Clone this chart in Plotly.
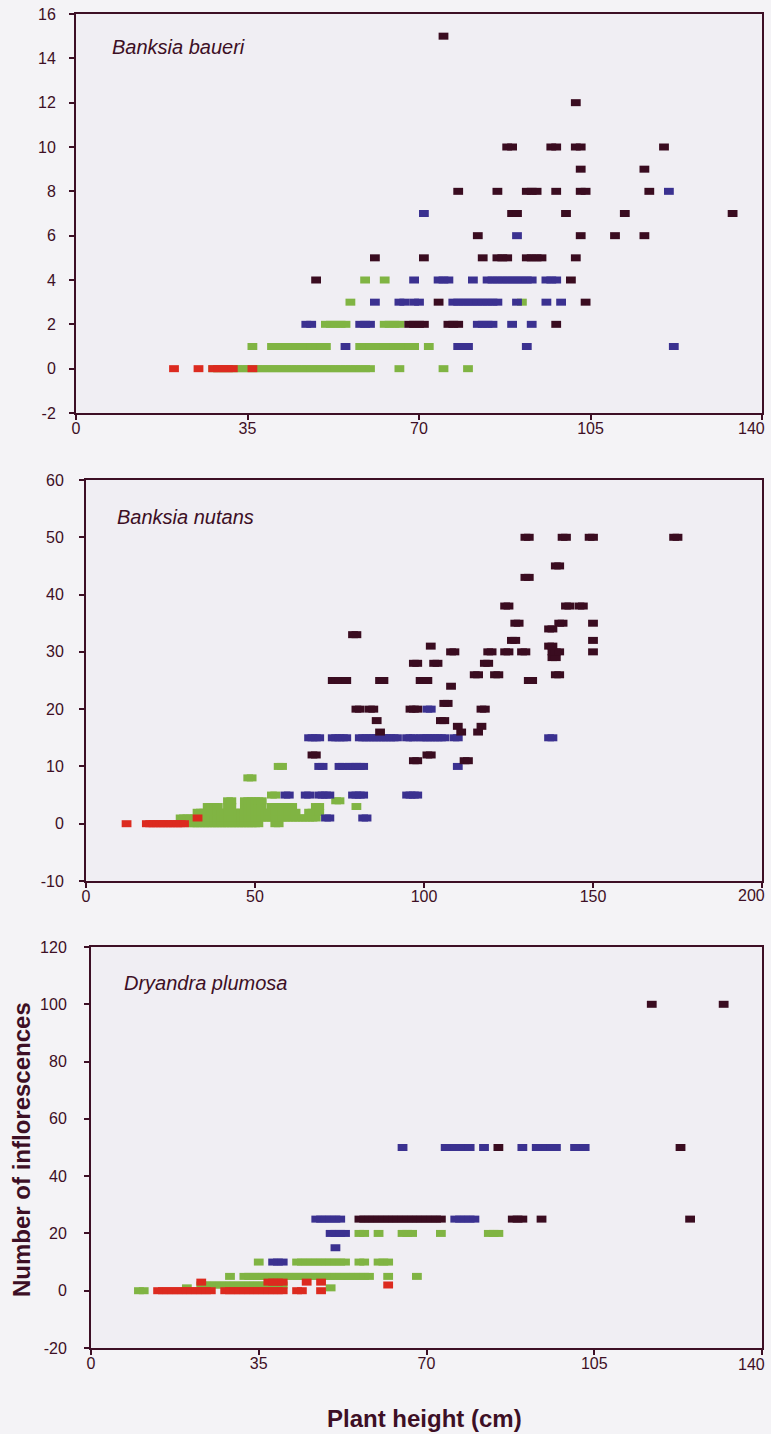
import plotly.graph_objects as go

# ---------------- data ----------------
# Each series: list of (number of inflorescences, [plant heights])
# Panel 1 : Banksia baueri
bb_red = [(0, [20, 25, 28, 29, 30, 31, 32, 36])]
bb_green = [
    (0, [28, 29, 30, 31, 32, 33, 34, 35, 36, 37, 38, 39, 40, 41, 42, 43, 44, 45, 46, 47, 48, 49, 50,
         51, 52, 53, 54, 55, 56, 57, 58, 59, 60, 66, 75, 80]),
    (1, [36, 40, 41, 42, 43, 44, 45, 46, 47, 48, 49, 50, 51, 58, 59, 60, 61, 62, 63, 64, 65, 66, 67,
         68, 69, 72]),
    (2, [51, 52, 53, 54, 55, 63, 64, 65, 66]),
    (3, [56, 91]),
    (4, [59, 63]),
]
bb_blue = [
    (1, [55, 78, 79, 80, 92, 122]),
    (2, [47, 48, 58, 59, 60, 82, 83, 84, 85, 89, 93]),
    (3, [61, 66, 67, 69, 70, 77, 78, 79, 80, 81, 82, 83, 84, 85, 86, 90, 96, 99]),
    (4, [69, 74, 75, 76, 81, 84, 85, 86, 87, 88, 89, 90, 91, 92, 93, 96, 97, 98]),
    (6, [90]),
    (7, [71]),
    (8, [121]),
]
bb_dark = [
    (2, [68, 69, 70, 71, 76, 77, 78, 98]),
    (3, [74, 104]),
    (4, [49, 101]),
    (5, [61, 71, 83, 86, 87, 88, 92, 93, 94, 95, 102]),
    (6, [82, 103, 110, 116]),
    (7, [89, 90, 100, 112, 134]),
    (8, [78, 86, 92, 93, 94, 98, 103, 104, 117]),
    (9, [103, 116]),
    (10, [88, 89, 97, 98, 102, 103, 120]),
    (12, [102]),
    (15, [75]),
]

# Panel 2 : Banksia nutans
bn_red = [(0, [12, 18, 19, 20, 21, 22, 23, 24, 25, 26, 27, 28, 29]), (1, [33])]
bn_green = [
    (0, [31, 32, 33, 34, 35, 36, 37, 38, 39, 40, 41, 42, 43, 44, 45, 46, 47, 48, 49, 50, 51, 56, 57]),
    (1, [28, 29, 30, 31, 32, 34, 35, 36, 37, 38, 39, 40, 41, 42, 43, 44, 45, 46, 47, 48, 49, 50, 51,
         52, 53, 54, 55, 56, 57, 58, 59, 60, 61, 62, 63, 64, 65, 66, 67, 68]),
    (2, [33, 34, 35, 36, 37, 39, 40, 41, 42, 44, 45, 46, 47, 48, 49, 50, 51, 52, 53, 54, 55, 56, 57,
         58, 59, 60, 61, 62, 66, 67, 68, 69]),
    (3, [36, 37, 38, 39, 42, 43, 47, 48, 49, 50, 51, 52, 55, 56, 57, 58, 59, 60, 61, 68, 69, 80]),
    (4, [42, 43, 47, 48, 49, 50, 51, 52, 74, 75]),
    (5, [55, 56]),
    (8, [48, 49]),
    (10, [57, 58]),
]
bn_blue = [
    (1, [71, 72, 82, 83]),
    (5, [59, 60, 65, 66, 69, 70, 71, 72, 79, 80, 81, 82, 95, 96, 97, 98]),
    (10, [69, 70, 75, 76, 78, 79, 80, 81, 82, 110]),
    (15, [66, 67, 68, 69, 73, 74, 75, 76, 77, 81, 82, 83, 84, 85, 86, 87, 88, 89, 90, 91, 92, 95,
          96, 97, 99, 100, 101, 102, 103, 104, 105, 106, 109, 110, 137, 138]),
    (20, [101, 102]),
]
bn_dark = [
    (11, [97, 98, 112, 113]),
    (12, [67, 68, 101, 102]),
    (16, [87, 111, 116]),
    (17, [110, 117]),
    (18, [86, 105, 106]),
    (20, [80, 81, 84, 85, 96, 97, 98, 117, 118]),
    (21, [106, 107]),
    (24, [108]),
    (25, [73, 74, 75, 76, 77, 87, 88, 99, 100, 101, 131, 132]),
    (26, [115, 116, 121, 122, 139, 140]),
    (28, [97, 98, 103, 104, 118, 119]),
    (29, [138, 139]),
    (30, [108, 109, 119, 120, 124, 125, 129, 130, 138, 139, 140, 150]),
    (31, [102, 137, 138]),
    (32, [126, 127, 150]),
    (33, [79, 80]),
    (34, [137, 138]),
    (35, [127, 128, 140, 141, 150]),
    (38, [124, 125, 142, 143, 146, 147]),
    (43, [130, 131]),
    (45, [139, 140]),
    (50, [130, 131, 141, 142, 149, 150, 174, 175]),
]

# Panel 3 : Dryandra plumosa
dp_red = [
    (0, [14, 15, 16, 17, 18, 19, 20, 21, 22, 23, 24, 25, 28, 29, 30, 31, 32, 33, 34, 35, 36, 37, 38,
         39, 40, 43, 44, 48]),
    (2, [62]),
    (3, [23, 37, 38, 39, 40, 45, 48]),
]
dp_green = [
    (0, [10, 11]),
    (1, [20, 50]),
    (2, [23, 24, 25, 26, 27, 28, 29, 30, 31, 32, 33, 34, 35, 36, 37, 38, 39, 40]),
    (5, [29, 32, 33, 34, 35, 36, 37, 38, 39, 40, 41, 42, 43, 44, 45, 46, 47, 48, 49, 50, 51, 52, 53,
         54, 55, 56, 57, 58, 62, 68]),
    (10, [35, 43, 44, 45, 46, 47, 48, 49, 50, 51, 52, 53, 56, 57, 60, 61, 62]),
    (20, [56, 57, 60, 65, 66, 67, 73, 83, 84, 85]),
]
dp_blue = [
    (10, [38, 39, 40]),
    (15, [51]),
    (20, [50, 51, 52, 53]),
    (25, [47, 48, 49, 50, 51, 52, 76, 77, 78, 79, 80]),
    (50, [65, 74, 75, 76, 77, 78, 79, 82, 90, 93, 94, 95, 96, 97, 101, 102, 103]),
]
dp_dark = [
    (25, [56, 57, 58, 59, 60, 61, 62, 63, 64, 65, 66, 67, 68, 69, 70, 71, 72, 73, 88, 89, 90, 94,
          125]),
    (50, [85, 123]),
    (100, [117, 132]),
]

species = ["Banksia baueri", "Banksia nutans", "Dryandra plumosa"]
x_ticks = [[0, 35, 70, 105, 140], [0, 50, 100, 150, 200], [0, 35, 70, 105, 140]]
y_ticks = [[-2, 0, 2, 4, 6, 8, 10, 12, 14, 16],
           [-10, 0, 10, 20, 30, 40, 50, 60],
           [-20, 0, 20, 40, 60, 80, 100, 120]]
x_title = "Plant height (cm)"
y_title = "Number of inflorescences"

# ---------------- styling ----------------
RED = "#dc2a1f"
GREEN = "#80b443"
BLUE = "#3b3190"
DARK = "#3a0c20"
AX = "#3d0f25"
FONT = "Liberation Sans, Arial, sans-serif"

panels = [
    (bb_green, bb_blue, bb_dark, bb_red),
    (bn_green, bn_blue, bn_dark, bn_red),
    (dp_green, dp_blue, dp_dark, dp_red),
]
colors = [GREEN, BLUE, DARK, RED]

W, H = 771, 1434
# pixel boxes of the three plot areas: (left, right, top, bottom)
boxes = [(76, 762, 14, 413), (86, 762, 480, 881), (91, 762, 947, 1348)]
y_standoff = [10, 12, 14]
last_label_y = [428, 895, 1364]


def flatten(rows):
    xs, ys = [], []
    for yv, xl in rows:
        for xv in xl:
            xs.append(xv)
            ys.append(yv)
    return xs, ys


fig = go.Figure()
for i, series in enumerate(panels):
    sfx = "" if i == 0 else str(i + 1)
    for rows, col in zip(series, colors):
        xs, ys = flatten(rows)
        fig.add_trace(go.Scatter(
            x=xs, y=ys, mode="markers", xaxis="x" + sfx, yaxis="y" + sfx,
            marker=dict(symbol="line-ew", size=7, color=col,
                        line=dict(color=col, width=7)),
            hoverinfo="x+y", showlegend=False))

axis_common = dict(showline=True, linecolor=AX, linewidth=2, mirror=True,
                   ticks="outside", ticklen=5, tickcolor=AX, tickwidth=1.5,
                   showgrid=False, zeroline=False, automargin=False,
                   tickfont=dict(family=FONT, size=16, color=AX))
layout = {}
annotations = []
for i, (l, r, t, b) in enumerate(boxes):
    sfx = "" if i == 0 else str(i + 1)
    xd = [l / W, r / W]
    yd = [1 - b / H, 1 - t / H]
    xt, yt = x_ticks[i], y_ticks[i]
    # the last x label sits flush against the right edge, drawn as an annotation
    xtext = [str(v) for v in xt[:-1]] + [""]
    layout["xaxis" + sfx] = dict(axis_common, domain=xd, range=[xt[0], xt[-1]],
                                 tickvals=xt, ticktext=xtext, anchor="y" + sfx,
                                 ticklabelstandoff=-5)
    layout["yaxis" + sfx] = dict(axis_common, domain=yd, range=[yt[0], yt[-1]],
                                 tickvals=yt, ticktext=[str(v) for v in yt],
                                 anchor="x" + sfx, ticklabelstandoff=y_standoff[i])
    annotations.append(dict(text=str(xt[-1]), x=767 / W, y=1 - last_label_y[i] / H,
                            xref="paper", yref="paper", xanchor="right", yanchor="middle",
                            showarrow=False, font=dict(family=FONT, size=16, color=AX)))

label_pos = [(110, 47), (115, 517), (122, 983)]
for name, (lx, ly) in zip(species, label_pos):
    annotations.append(dict(text="<i>" + name + "</i>", x=lx / W, y=1 - ly / H,
                            xref="paper", yref="paper", xanchor="left", yanchor="middle",
                            showarrow=False, font=dict(family=FONT, size=20, color=AX)))
annotations.append(dict(text="<b>" + y_title + "</b>", x=21 / W, y=1 - 1150 / H,
                        xref="paper", yref="paper", textangle=-90,
                        xanchor="center", yanchor="middle", showarrow=False,
                        font=dict(family=FONT, size=24, color=AX)))
annotations.append(dict(text="<b>" + x_title + "</b>", x=424 / W, y=1 - 1418 / H,
                        xref="paper", yref="paper", xanchor="center", yanchor="middle",
                        showarrow=False, font=dict(family=FONT, size=24, color=AX)))

fig.update_layout(width=W, height=H, margin=dict(l=0, r=0, t=0, b=0, pad=0, autoexpand=False),
                  paper_bgcolor="#f4f3f6", plot_bgcolor="#f0eef3",
                  annotations=annotations, **layout)

fig.write_html("out.html", config={"responsive": False, "displayModeBar": False},
               post_script="document.body.style.margin='0';"
                           "document.body.style.padding='0';"
                           "document.documentElement.style.overflow='hidden';")
